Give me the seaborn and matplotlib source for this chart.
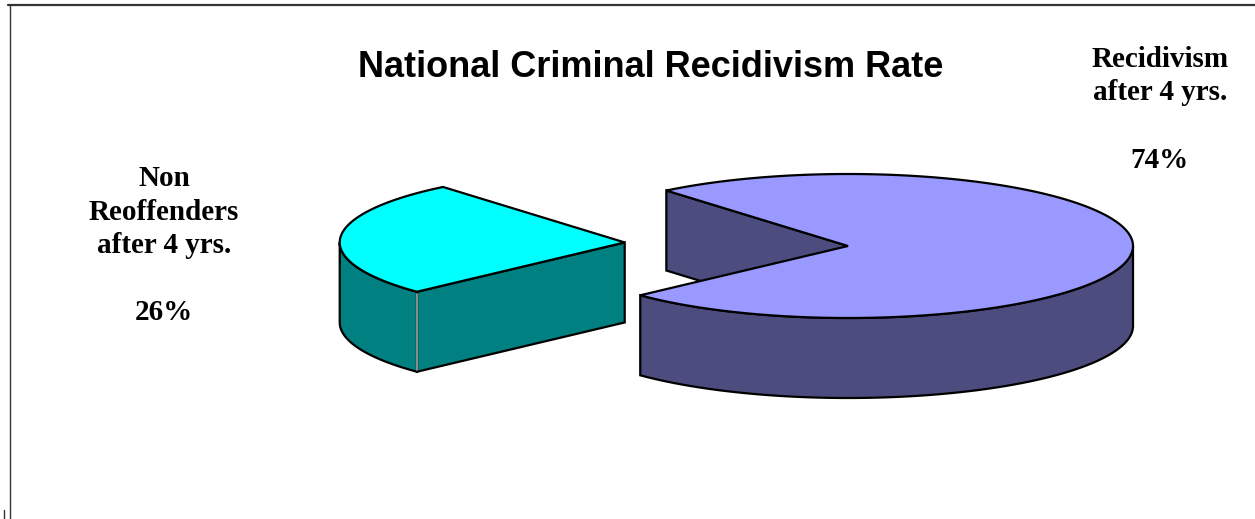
import numpy as np
import matplotlib
matplotlib.use("Agg")
import matplotlib.pyplot as plt
import seaborn as sns
from matplotlib.patches import Polygon
from matplotlib.lines import Line2D

sns.set_theme(style="white")
plt.rcParams['font.family'] = ['Liberation Serif', 'DejaVu Serif']

# ---------------- data ----------------
title = "National Criminal Recidivism Rate"
categories = ["Recidivism\nafter 4 yrs.", "Non\nReoffenders\nafter 4 yrs."]
values = [74, 26]
pct_labels = ["74%", "26%"]

# ---------------- style / layout ----------------
top_colors = ["#9999FF", "#00FFFF"]
side_colors = ["#4C4C7F", "#008080"]
W, H = 1255, 519
cx, cy = 848, 246          # pie centre in pixels
rx, ry = 285, 72           # ellipse radii of the pie top
depth = 80                 # thickness of the 3-D pie
start_angle = 223.2        # where the first wedge starts (deg, ccw)
explode = [0.0, 0.785]
label_pos = [(1160, 67), (164, 186)]   # baseline of first label line
line_h = 33.5

fig = plt.figure(figsize=(W / 100, H / 100), dpi=100)
ax = fig.add_axes([0, 0, 1, 1])
ax.set_xlim(0, W)
ax.set_ylim(H, 0)
ax.axis("off")


def pt(ox, oy, t, z=0.0):
    r = np.deg2rad(t)
    return ox + rx * np.cos(r), oy - ry * np.sin(r) + z


def arc(ox, oy, a, b, z=0.0, n=200):
    ts = np.linspace(a, b, n)
    xs, ys = pt(ox, oy, ts, z)
    return list(zip(xs, ys))


lw = 1.6
fracs = np.array(values, dtype=float) / np.sum(values)
angles = start_angle + np.concatenate([[0], np.cumsum(fracs) * 360])

wedges = []
for i in range(len(values)):
    t1, t2 = angles[i], angles[i + 1]
    mid = np.deg2rad((t1 + t2) / 2)
    ox = cx + explode[i] * rx * np.cos(mid)
    oy = cy - explode[i] * ry * np.sin(mid)
    wedges.append((t1, t2, ox, oy))

for i, (t1, t2, ox, oy) in enumerate(wedges):
    z = 10 + i * 5
    # cut faces
    for t, vis in ((t1, np.cos(np.deg2rad(t1)) > 0), (t2, np.cos(np.deg2rad(t2)) < 0)):
        if vis:
            ex, ey = pt(ox, oy, t)
            poly = [(ox, oy), (ex, ey), (ex, ey + depth), (ox, oy + depth)]
            ax.add_patch(Polygon(poly, closed=True, facecolor=side_colors[i],
                                 edgecolor="black", lw=lw, zorder=z))
    # outer visible side (front half: 180..360 deg)
    for k in range(-1, 3):
        a = max(t1, 180 + 360 * k)
        b = min(t2, 360 + 360 * k)
        if b > a:
            top = arc(ox, oy, a, b)
            bot = arc(ox, oy, a, b, depth)[::-1]
            ax.add_patch(Polygon(top + bot, closed=True, facecolor=side_colors[i],
                                 edgecolor="black", lw=lw, zorder=z + 1))
            # light seam where curved side meets the flat cut face
            if i == 1:
                sx, sy = pt(ox, oy, b)
                ax.add_line(Line2D([sx, sx], [sy + 2, sy + depth - 2], color="#9a9a9a",
                                   lw=1.3, zorder=z + 2))
    # top face
    top = [(ox, oy)] + arc(ox, oy, t1, t2, n=400)
    ax.add_patch(Polygon(top, closed=True, facecolor=top_colors[i],
                         edgecolor="black", lw=lw, zorder=z + 3))

# title
ax.text(651, 77, title, ha="center", va="baseline", fontsize=26,
        fontweight="bold", family=["Liberation Sans", "DejaVu Sans"], color="black")

# labels
for (lx, ly), cat, pct in zip(label_pos, categories, pct_labels):
    lines = cat.split("\n") + ["", pct]
    for j, s in enumerate(lines):
        if s:
            ax.text(lx, ly + j * line_h, s, ha="center", va="baseline",
                    fontsize=21, fontweight="bold", color="black")

# frame (top and left border)
fig.add_artist(Line2D([8 / W, 1.0], [1 - 5 / H, 1 - 5 / H], color="#333333", lw=1.6))
fig.add_artist(Line2D([9.5 / W, 9.5 / W], [1 - 5 / H, 0.0], color="#333333", lw=1.0))
fig.add_artist(Line2D([3.5 / W, 3.5 / W], [1 - 510 / H, 0.0], color="#333333", lw=1.0))

fig.savefig("out.png", dpi=100)
